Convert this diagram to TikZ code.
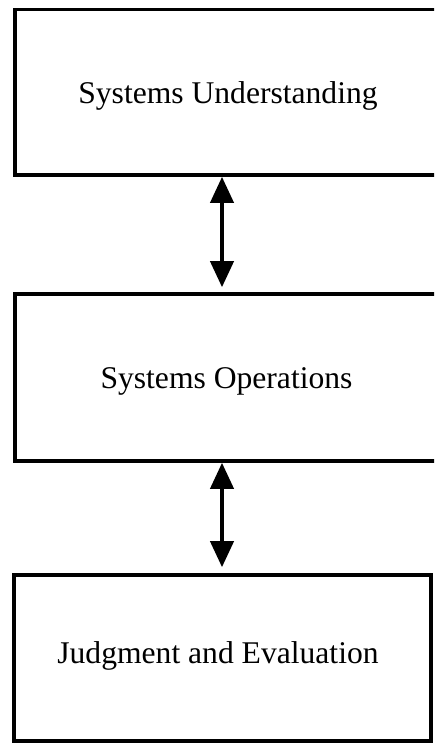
\documentclass[tikz,border=0pt]{standalone}
\usepackage{fontspec}
\setmainfont{Liberation Serif}
\usetikzlibrary{arrows.meta}
\begin{document}
\begin{tikzpicture}[x=1pt,y=-1pt,
  stagebox/.style={draw=black,line width=3.6pt,rectangle,inner sep=0pt},
  stagetext/.style={anchor=base,inner sep=0pt,font=\fontsize{31.6}{38}\selectfont},
  linkarrow/.style={line width=4pt,{Triangle[width=23pt,length=26pt]}-{Triangle[width=23pt,length=26pt]}}]
\useasboundingbox (0,0) rectangle (434,744);
\clip (0,0) rectangle (434,744);
\fill[white] (0,0) rectangle (434,744);
% stage boxes
\node[stagebox,minimum width=436pt,minimum height=165.5pt] (su) at (233,92.3) {};
\node[stagebox,minimum width=436pt,minimum height=167pt] (so) at (233,377.5) {};
\node[stagebox,minimum width=417pt,minimum height=166pt] (je) at (222.5,658) {};
% stage labels
\node[stagetext] (sut) at (228,103) {Systems Understanding};
\node[stagetext] (sot) at (226.5,388) {Systems Operations};
\node[stagetext] (jet) at (218,663) {Judgment and Evaluation};
% two-way links between stages
\coordinate (ax) at (222,0);
\draw[linkarrow,shorten >=5pt] (su.south -| ax) -- (so.north -| ax);
\draw[linkarrow,shorten >=6pt] (so.south -| ax) -- (je.north -| ax);
\end{tikzpicture}
\end{document}
